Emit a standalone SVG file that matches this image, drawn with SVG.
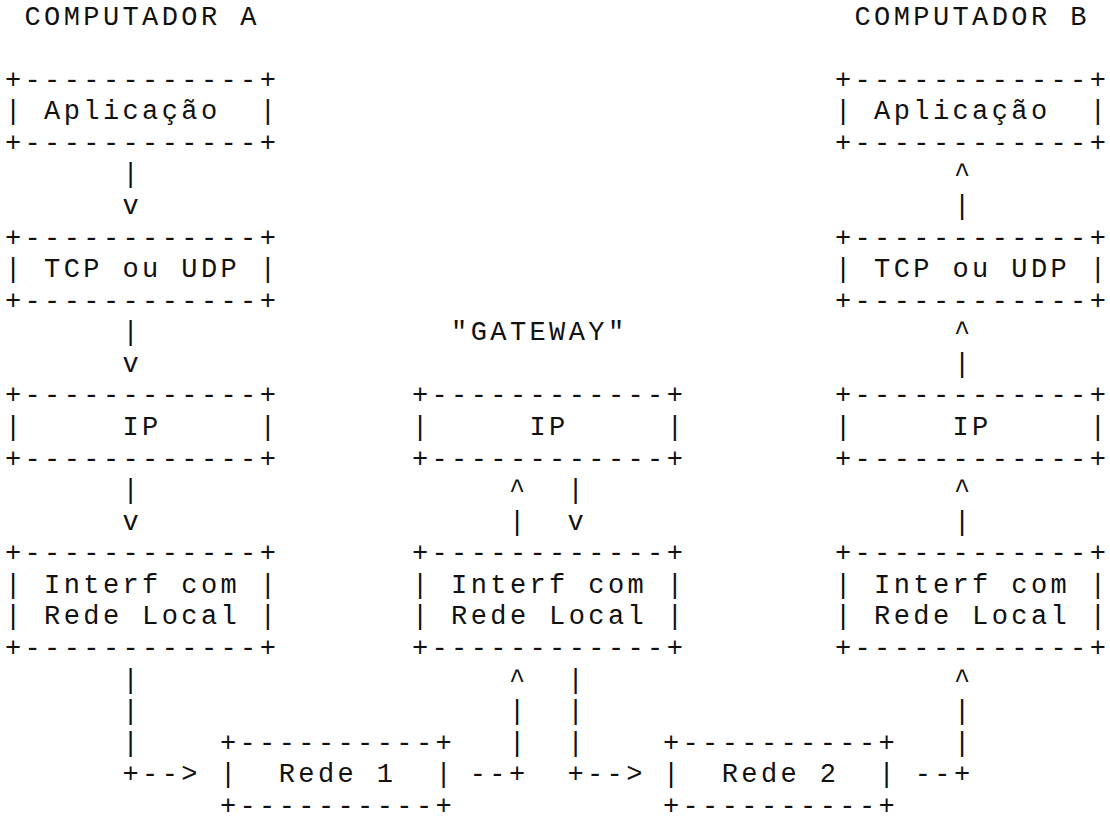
<svg xmlns="http://www.w3.org/2000/svg" width="1110" height="822" viewBox="0 0 1110 822" xml:space="preserve">
<style>
  text { font-family: "Liberation Mono", "DejaVu Sans Mono", monospace; font-size: 27px; letter-spacing: 3.4px; fill: #111; white-space: pre; }
</style>
<rect width="1110" height="822" fill="#fff"/>
<g id="titles">
  <text x="24.5" y="24.5">COMPUTADOR A</text>
  <text x="854.5" y="24.5">COMPUTADOR B</text>
  <text x="451.1" y="340.3">"GATEWAY"</text>
</g>
<g id="a-aplicacao">
  <text x="4.9" y="87.7">+------------+</text>
  <text x="4.9" y="119.2">| Aplicação  |</text>
  <text x="4.9" y="150.8">+------------+</text>
</g>
<g id="a-tcp">
  <text x="4.9" y="245.5">+------------+</text>
  <text x="4.9" y="277.1">| TCP ou UDP |</text>
  <text x="4.9" y="308.7">+------------+</text>
</g>
<g id="a-ip">
  <text x="4.9" y="403.4">+------------+</text>
  <text x="4.9" y="435">|     IP     |</text>
  <text x="4.9" y="466.6">+------------+</text>
</g>
<g id="a-interf">
  <text x="4.9" y="561.3">+------------+</text>
  <text x="4.9" y="592.9">| Interf com |</text>
  <text x="4.9" y="624.4">| Rede Local |</text>
  <text x="4.9" y="656">+------------+</text>
</g>
<g id="g-ip">
  <text x="411.9" y="403.4">+------------+</text>
  <text x="411.9" y="435">|     IP     |</text>
  <text x="411.9" y="466.6">+------------+</text>
</g>
<g id="g-interf">
  <text x="411.9" y="561.3">+------------+</text>
  <text x="411.9" y="592.9">| Interf com |</text>
  <text x="411.9" y="624.4">| Rede Local |</text>
  <text x="411.9" y="656">+------------+</text>
</g>
<g id="b-aplicacao">
  <text x="834.9" y="87.7">+------------+</text>
  <text x="834.9" y="119.2">| Aplicação  |</text>
  <text x="834.9" y="150.8">+------------+</text>
</g>
<g id="b-tcp">
  <text x="834.9" y="245.5">+------------+</text>
  <text x="834.9" y="277.1">| TCP ou UDP |</text>
  <text x="834.9" y="308.7">+------------+</text>
</g>
<g id="b-ip">
  <text x="834.9" y="403.4">+------------+</text>
  <text x="834.9" y="435">|     IP     |</text>
  <text x="834.9" y="466.6">+------------+</text>
</g>
<g id="b-interf">
  <text x="834.9" y="561.3">+------------+</text>
  <text x="834.9" y="592.9">| Interf com |</text>
  <text x="834.9" y="624.4">| Rede Local |</text>
  <text x="834.9" y="656">+------------+</text>
</g>
<g id="rede1">
  <text x="219.9" y="750.7">+----------+</text>
  <text x="219.9" y="782.3">|  Rede 1  |</text>
  <text x="219.9" y="813.8">+----------+</text>
</g>
<g id="rede2">
  <text x="662.9" y="750.7">+----------+</text>
  <text x="662.9" y="782.3">|  Rede 2  |</text>
  <text x="662.9" y="813.8">+----------+</text>
</g>
<g id="connectors">
  <text x="122.5" y="182.4">|</text>
  <text x="122.5" y="214">v</text>
  <text x="122.5" y="340.3">|</text>
  <text x="122.5" y="371.8">v</text>
  <text x="122.5" y="498.1">|</text>
  <text x="122.5" y="529.7">v</text>
  <text x="122.5" y="687.6">|</text>
  <text x="122.5" y="719.2">|</text>
  <text x="122.5" y="750.7">|</text>
  <text x="122.5" y="782.3">+--&gt;</text>

  <text x="508.9" y="498.1">^</text>
  <text x="567.4" y="498.1">|</text>
  <text x="508.9" y="529.7">|</text>
  <text x="567.4" y="529.7">v</text>
  <text x="508.9" y="687.6">^</text>
  <text x="567.4" y="687.6">|</text>
  <text x="508.9" y="719.2">|</text>
  <text x="567.4" y="719.2">|</text>
  <text x="508.9" y="750.7">|</text>
  <text x="567.4" y="750.7">|</text>
  <text x="469.7" y="782.3">--+</text>
  <text x="567.4" y="782.3">+--&gt;</text>

  <text x="953.9" y="182.4">^</text>
  <text x="953.9" y="214">|</text>
  <text x="953.9" y="340.3">^</text>
  <text x="953.9" y="371.8">|</text>
  <text x="953.9" y="498.1">^</text>
  <text x="953.9" y="529.7">|</text>
  <text x="953.9" y="687.6">^</text>
  <text x="953.9" y="719.2">|</text>
  <text x="953.9" y="750.7">|</text>
  <text x="914.7" y="782.3">--+</text>
</g>
</svg>
